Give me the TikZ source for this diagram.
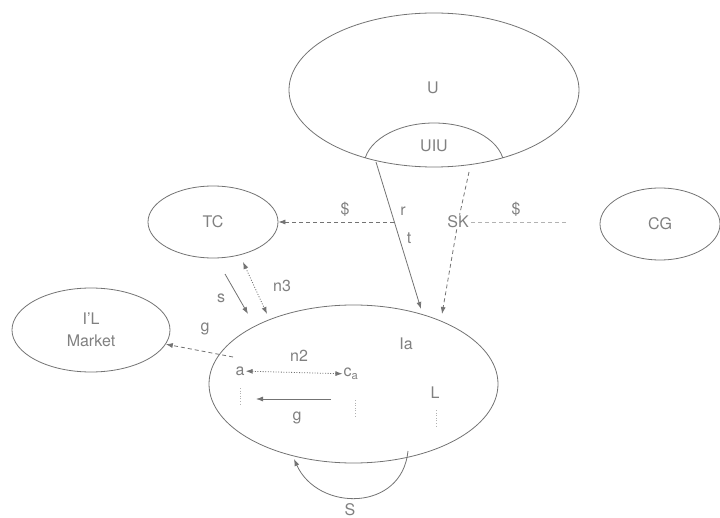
\documentclass[tikz,border=0pt]{standalone}
\usepackage{fontspec}
\setmainfont{TeX Gyre Heros}
\usetikzlibrary{arrows.meta,shapes.geometric}
\begin{document}
\begin{tikzpicture}[x=1pt,y=-1pt,
  ln/.style={draw=black!55, line width=0.8pt},
  lt/.style={draw=black!30, line width=0.8pt},
  ell/.style={ellipse, ln, inner sep=0pt, text=black!50, font=\fontsize{16}{22}\selectfont, align=center},
  txt/.style={text=black!50, font=\fontsize{16}{19}\selectfont, inner sep=1pt},
  arr/.style={-{Latex[length=7pt,width=5pt]}},
  darr/.style={{Latex[length=7pt,width=5pt]}-{Latex[length=7pt,width=5pt]}},
  dsh/.style={dash pattern=on 4pt off 3pt},
  dtt/.style={dash pattern=on 1pt off 1.6pt}]
\useasboundingbox (0,0) rectangle (720,518);

% ellipses
\node[ell, minimum width=290pt, minimum height=154pt] (U) at (434,90) {};
\node[txt] (Ulab) at (433,88) {U};
\begin{scope}
  \clip (434,90) ellipse [x radius=145, y radius=77];
  \draw[ln] (434,166) ellipse [x radius=70, y radius=43];
\end{scope}
\node[txt] (UIU) at (434,146) {UIU};
\node[ell, minimum width=130pt, minimum height=72pt] (TC) at (213,222) {TC};
\node[ell, minimum width=120pt, minimum height=72pt] (CG) at (660,224) {CG};
\node[ell, minimum width=158pt, minimum height=84pt] (M) at (91,330) {I'L\\Market};
\node[ell, minimum width=289pt, minimum height=158pt] (Ia) at (353.5,384) {};
\node[txt] (Ialab) at (406,344) {Ia};

% r / t arrow
\coordinate (rt1) at (376,162);
\coordinate (rt2) at (421,309);
\draw[ln, arr] (rt1) -- (rt2);
\node[txt] (r) at (403,211) {r};
\node[txt] (t) at (409,238) {t};

% SK arrow
\coordinate (sk1) at (469,172);
\coordinate (sk2) at (442,314);
\node[txt, inner sep=1pt] (SK) at (458,222) {SK};
\draw[ln, dsh] (sk1) -- (SK);
\draw[ln, dsh, arr] (SK) -- (sk2);

% $ from CG
\coordinate (cg1) at (566,222);
\draw[lt, dsh] (cg1) -- (SK);
\node[txt] (d2) at (516,209) {\$};

% $ to TC
\coordinate (d1s) at (394,222);
\draw[ln, dsh, arr] (d1s) -- (TC);
\node[txt] (d1) at (345,209) {\$};

% s and n3
\coordinate (s1) at (225,274);
\coordinate (s2) at (248,314);
\draw[ln, arr] (s1) -- (s2);
\node[txt] (slab) at (221,298) {s};
\coordinate (n31) at (243,262);
\coordinate (n32) at (267,314);
\draw[ln, dtt, darr] (n31) -- (n32);
\node[txt] (n3) at (282,286) {n3};

% g to market
\coordinate (g1) at (233,357);
\draw[ln, dsh, arr] (g1) -- (M);
\node[txt] (glab) at (205,329) {g};

% inside Ia
\node[txt] (a) at (240,371) {a};
\node[txt] (ca) at (351,374) {c$_{\mathrm{a}}$};
\draw[ln, dtt, darr] (a) -- (ca);
\node[txt] (n2) at (299,356) {n2};
\coordinate (av1) at (240,388);
\coordinate (av2) at (240,404);
\draw[lt, dtt] (av1) -- (av2);
\coordinate (g2s) at (331,399);
\coordinate (g2e) at (256,399);
\draw[ln, arr] (g2s) -- (g2e);
\node[txt] (g2) at (297,418) {g};
\coordinate (cv1) at (355,400);
\coordinate (cv2) at (355,417);
\draw[lt, dtt] (cv1) -- (cv2);
\node[txt] (L) at (435,393) {L};
\coordinate (lv1) at (436,410);
\coordinate (lv2) at (436,428);
\draw[lt, dtt] (lv1) -- (lv2);

% S loop
\coordinate (sl1) at (408,451);
\coordinate (sl2) at (294,459);
\draw[ln, arr] (sl1) .. controls (402,512) and (318,512) .. (sl2);
\node[txt] (S) at (350,510) {S};
\end{tikzpicture}
\end{document}
